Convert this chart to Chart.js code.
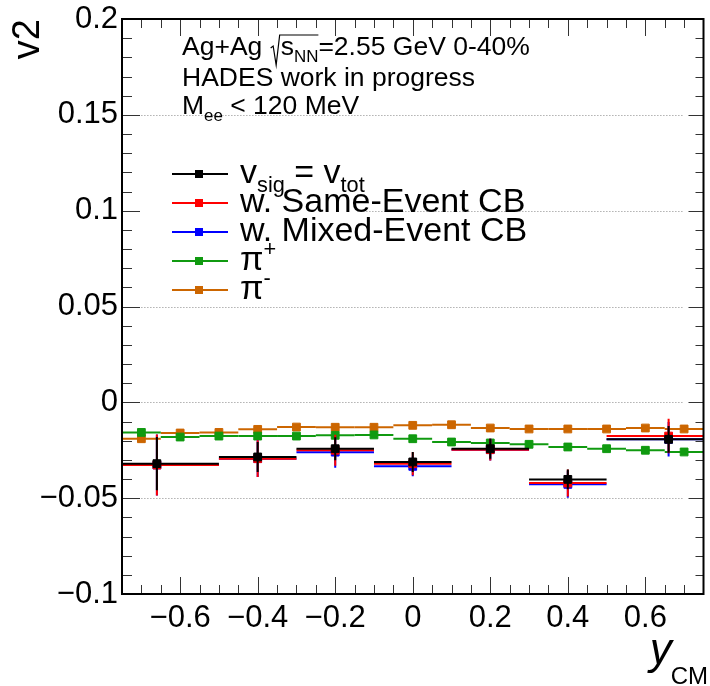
<!DOCTYPE html>
<html>
<head>
<meta charset="utf-8">
<script src="https://cdn.jsdelivr.net/npm/chart.js@4.4.0/dist/chart.umd.min.js"></script>
<style>
  html, body { margin: 0; padding: 0; background: #fff; }
  #wrap { width: 710px; height: 686px; }
</style>
</head>
<body>
<div id="wrap"><canvas id="c" width="710" height="686"></canvas></div>
<script>
// Elliptic flow v2 of low-mass dielectrons vs. rapidity, with charged pions for reference.

// Dielectron rapidity bins (mean position, lower and upper edge)
const BIN_X  = [-0.66, -0.40, -0.20, 0.00, 0.20, 0.40, 0.66];
const BIN_LO = [-0.75, -0.50, -0.30, -0.10, 0.10, 0.30, 0.50];
const BIN_HI = [-0.50, -0.30, -0.10, 0.10, 0.30, 0.50, 0.75];

// v_sig = v_tot
const V2_TOT     = [-0.0320, -0.0285, -0.0242, -0.0311, -0.0242, -0.0402, -0.0193];
const V2_TOT_ERR = [0.0139, 0.0078, 0.0060, 0.0052, 0.0052, 0.0052, 0.0070];
// with same-event combinatorial background subtracted
const V2_SE      = [-0.0327, -0.0294, -0.0250, -0.0320, -0.0247, -0.0421, -0.0176];
const V2_SE_ERR  = [0.0159, 0.0096, 0.0081, 0.0060, 0.0057, 0.0070, 0.0090];
// with mixed-event combinatorial background subtracted
const V2_ME      = [-0.0327, -0.0294, -0.0260, -0.0334, -0.0247, -0.0428, -0.0193];
const V2_ME_ERR  = [0.0159, 0.0096, 0.0081, 0.0052, 0.0057, 0.0070, 0.0090];

// Charged pions, bins of width 0.1
const PI_X        = [-0.7, -0.6, -0.5, -0.4, -0.3, -0.2, -0.1, 0.0, 0.1, 0.2, 0.3, 0.4, 0.5, 0.6, 0.7];
const PI_HALF_BIN = 0.05;
const V2_PIPLUS   = [-0.0157, -0.0181, -0.0176, -0.0176, -0.0176, -0.0172, -0.0170, -0.0190,
                     -0.0207, -0.0212, -0.0219, -0.0233, -0.0242, -0.0250, -0.0259];
const V2_PIMINUS  = [-0.0190, -0.0160, -0.0157, -0.0141, -0.0129, -0.0130, -0.0130, -0.0120,
                     -0.0117, -0.0134, -0.0139, -0.0139, -0.0139, -0.0134, -0.0139];

// Axes
const X_RANGE = [-0.75, 0.75];
const Y_RANGE = [-0.1, 0.2];
const X_TICKS = [-0.6, -0.4, -0.2, 0, 0.2, 0.4, 0.6];
const Y_TICKS = [-0.1, -0.05, 0, 0.05, 0.1, 0.15, 0.2];
const Y_GRID  = [-0.05, 0, 0.05, 0.1, 0.15];
const GRID_X_SPAN = [-0.7, 0.7];

const FONT = "'Liberation Sans', Arial, Helvetica, sans-serif";
const C_BLACK = '#000000', C_RED = '#ff0000', C_BLUE = '#0000ff', C_GREEN = '#109a10', C_ORANGE = '#cc6600';

function fmtTick(v) {
  if (Math.abs(v) < 1e-9) return '0';
  const s = String(+Math.abs(v).toFixed(3));
  return (v < 0 ? '\u2212' : '') + s;
}

function pts(xs, ys) { return xs.map((x, i) => ({ x: x, y: ys[i] })); }

// Error bars per dataset index: x extent and symmetric y error
const ERRORS = [
  { lo: BIN_LO, hi: BIN_HI, err: V2_TOT_ERR, color: C_BLACK },
  { lo: BIN_LO, hi: BIN_HI, err: V2_SE_ERR,  color: C_RED },
  { lo: BIN_LO, hi: BIN_HI, err: V2_ME_ERR,  color: C_BLUE },
  { half: PI_HALF_BIN, color: C_GREEN },
  { half: PI_HALF_BIN, color: C_ORANGE }
];

// Mixed-size text runs: {t, sub} / {t, sup}
function drawRich(ctx, x, y, parts, size) {
  let cx = x;
  for (const p of parts) {
    let s = size, dy = 0;
    if (p.sub) { s = size * 0.64; dy = size * 0.26; }
    if (p.sup) { s = size * 0.64; dy = -size * 0.42; }
    ctx.font = (p.italic ? 'italic ' : '') + s + 'px ' + FONT;
    ctx.fillText(p.t, cx, y + dy);
    cx += ctx.measureText(p.t).width;
  }
  return cx;
}

const LEGEND = [
  { color: C_BLACK,  parts: [{ t: 'v' }, { t: 'sig', sub: true }, { t: ' = v' }, { t: 'tot', sub: true }] },
  { color: C_RED,    parts: [{ t: 'w. Same-Event CB' }] },
  { color: C_BLUE,   parts: [{ t: 'w. Mixed-Event CB' }] },
  { color: C_GREEN,  parts: [{ t: '\u03c0' }, { t: '+', sup: true }] },
  { color: C_ORANGE, parts: [{ t: '\u03c0' }, { t: '-', sup: true }] }
];

const rootStyle = {
  id: 'rootStyle',
  beforeDatasetsDraw(chart) {
    const { ctx, scales: { x, y } } = chart;
    ctx.save();
    ctx.strokeStyle = '#8a8a8a';
    ctx.lineWidth = 1;
    ctx.setLineDash([1, 2]);
    for (const g of Y_GRID) {
      const py = Math.round(y.getPixelForValue(g)) + 0.5;
      ctx.beginPath();
      ctx.moveTo(x.getPixelForValue(GRID_X_SPAN[0]), py);
      ctx.lineTo(x.getPixelForValue(GRID_X_SPAN[1]), py);
      ctx.stroke();
    }
    ctx.setLineDash([]);
    // legend fill
    ctx.fillStyle = '#ffffff';
    ctx.fillRect(126, 150, 240, 150);
    ctx.restore();
  },
  beforeDatasetDraw(chart, args) {
    const e = ERRORS[args.index];
    if (!e) return;
    const { ctx, chartArea: a, scales: { x, y } } = chart;
    const data = chart.data.datasets[args.index].data;
    ctx.save();
    ctx.beginPath();
    ctx.rect(a.left, a.top, a.right - a.left, a.bottom - a.top);
    ctx.clip();
    ctx.strokeStyle = e.color;
    ctx.lineWidth = 2;
    data.forEach((d, i) => {
      const lo = e.lo ? e.lo[i] : d.x - e.half;
      const hi = e.hi ? e.hi[i] : d.x + e.half;
      const py = y.getPixelForValue(d.y);
      ctx.beginPath();
      ctx.moveTo(x.getPixelForValue(lo), py);
      ctx.lineTo(x.getPixelForValue(hi), py);
      ctx.stroke();
      if (e.err) {
        const px = x.getPixelForValue(d.x);
        ctx.beginPath();
        ctx.moveTo(px, y.getPixelForValue(d.y + e.err[i]));
        ctx.lineTo(px, y.getPixelForValue(d.y - e.err[i]));
        ctx.stroke();
      }
    });
    ctx.restore();
  },
  afterDatasetsDraw(chart) {
    const { ctx, chartArea: a, scales: { x, y } } = chart;
    ctx.save();
    // ticks
    ctx.strokeStyle = '#333';
    ctx.lineWidth = 1;
    ctx.beginPath();
    for (let k = -15; k <= 15; k++) {
      const v = k * 0.05;
      const px = Math.round(x.getPixelForValue(v)) + 0.5;
      if (px < a.left + 1 || px > a.right - 1) continue;
      const major = (Math.abs(Math.round(v * 10)) % 2 === 0) && Math.abs(v * 10 - Math.round(v * 10)) < 1e-6;
      const len = major ? 17 : 9;
      ctx.moveTo(px, a.bottom); ctx.lineTo(px, a.bottom - len);
      ctx.moveTo(px, a.top); ctx.lineTo(px, a.top + len);
    }
    for (let k = -10; k <= 20; k++) {
      const v = k * 0.01;
      const py = Math.round(y.getPixelForValue(v)) + 0.5;
      if (py < a.top + 1 || py > a.bottom - 1) continue;
      const major = (((k % 5) + 5) % 5) === 0;
      ctx.moveTo(a.left, py); ctx.lineTo(a.left + (major ? 18 : 10), py);
      ctx.moveTo(a.right, py); ctx.lineTo(a.right - (major ? 15 : 8), py);
    }
    ctx.stroke();
    // frame
    ctx.strokeStyle = '#000';
    ctx.lineWidth = 2;
    ctx.strokeRect(a.left, a.top, a.right - a.left, a.bottom - a.top);
    ctx.restore();
  },
  afterDraw(chart) {
    const { ctx } = chart;
    ctx.save();
    ctx.fillStyle = '#000';
    ctx.textBaseline = 'alphabetic';
    ctx.textAlign = 'left';

    // legend
    const rowY = [174, 203, 232, 261, 290];
    LEGEND.forEach((L, i) => {
      const cy = rowY[i];
      ctx.strokeStyle = L.color;
      ctx.lineWidth = 2;
      ctx.beginPath(); ctx.moveTo(172, cy); ctx.lineTo(228, cy); ctx.stroke();
      ctx.fillStyle = L.color;
      ctx.fillRect(195, cy - 4, 8, 8);
      ctx.fillStyle = '#000';
      drawRich(ctx, 240, cy + 9, L.parts, 34);
    });

    // annotation
    const fs = 26.5, x0 = 182;
    let cx = drawRich(ctx, x0, 55, [{ t: 'Ag+Ag ' }], fs);
    const rx = cx + 1;
    const sStart = rx + 10;
    let ex = drawRich(ctx, sStart, 55, [{ t: 's' }, { t: 'NN', sub: true }], fs);
    ctx.strokeStyle = '#000';
    ctx.lineWidth = 1.2;
    ctx.beginPath();
    ctx.moveTo(rx, 48); ctx.lineTo(rx + 2.5, 46);
    ctx.lineTo(rx + 5.5, 65); ctx.lineTo(rx + 9, 35); ctx.lineTo(ex, 35);
    ctx.stroke();
    drawRich(ctx, ex, 55, [{ t: '=2.55 GeV 0-40%' }], fs);
    drawRich(ctx, x0, 86, [{ t: 'HADES work in progress' }], fs);
    drawRich(ctx, x0, 114, [{ t: 'M' }, { t: 'ee', sub: true }, { t: ' < 120 MeV' }], fs);

    // x-axis title
    ctx.font = '24px ' + FONT;
    const cmW = ctx.measureText('CM').width;
    ctx.fillText('CM', 708 - cmW, 684);
    ctx.font = 'italic 44px ' + FONT;
    const yW = ctx.measureText('y').width;
    ctx.fillText('y', 708 - cmW - yW + 1, 664);
    ctx.restore();
  }
};

const tickFont = { family: FONT, size: 31 };

new Chart(document.getElementById('c'), {
  type: 'scatter',
  data: {
    datasets: [
      { label: 'v_sig = v_tot', data: pts(BIN_X, V2_TOT), backgroundColor: C_BLACK, borderColor: C_BLACK },
      { label: 'w. Same-Event CB', data: pts(BIN_X, V2_SE), backgroundColor: C_RED, borderColor: C_RED },
      { label: 'w. Mixed-Event CB', data: pts(BIN_X, V2_ME), backgroundColor: C_BLUE, borderColor: C_BLUE },
      { label: 'pi+', data: pts(PI_X, V2_PIPLUS), backgroundColor: C_GREEN, borderColor: C_GREEN },
      { label: 'pi-', data: pts(PI_X, V2_PIMINUS), backgroundColor: C_ORANGE, borderColor: C_ORANGE }
    ].map(d => Object.assign(d, { pointStyle: 'rect', pointRadius: 5.5, pointBorderWidth: 1, showLine: false, pointHoverRadius: 5.5 }))
  },
  options: {
    responsive: false,
    animation: false,
    devicePixelRatio: 1,
    layout: { padding: { top: 19, right: 2, left: 0, bottom: 0 } },
    plugins: { legend: { display: false }, tooltip: { enabled: false } },
    scales: {
      x: {
        type: 'linear', min: X_RANGE[0], max: X_RANGE[1],
        grid: { display: false, drawTicks: false },
        border: { display: false },
        ticks: { font: tickFont, color: '#000', padding: 6, maxRotation: 0, callback: fmtTick },
        afterBuildTicks: s => { s.ticks = X_TICKS.map(v => ({ value: v })); },
        afterFit: s => { s.height = 92; s.paddingLeft = 0; s.paddingRight = 0; }
      },
      y: {
        type: 'linear', min: Y_RANGE[0], max: Y_RANGE[1],
        grid: { display: false, drawTicks: false },
        border: { display: false },
        ticks: { font: tickFont, color: '#000', padding: 4, callback: fmtTick },
        title: { display: true, text: 'v2', align: 'end', color: '#000', font: { family: FONT, size: 38 }, padding: { top: 6, bottom: 0 } },
        afterBuildTicks: s => { s.ticks = Y_TICKS.map(v => ({ value: v })); },
        afterFit: s => { s.width = 122; s.paddingTop = 0; s.paddingBottom = 0; }
      }
    }
  },
  plugins: [rootStyle]
});
</script>
</body>
</html>
